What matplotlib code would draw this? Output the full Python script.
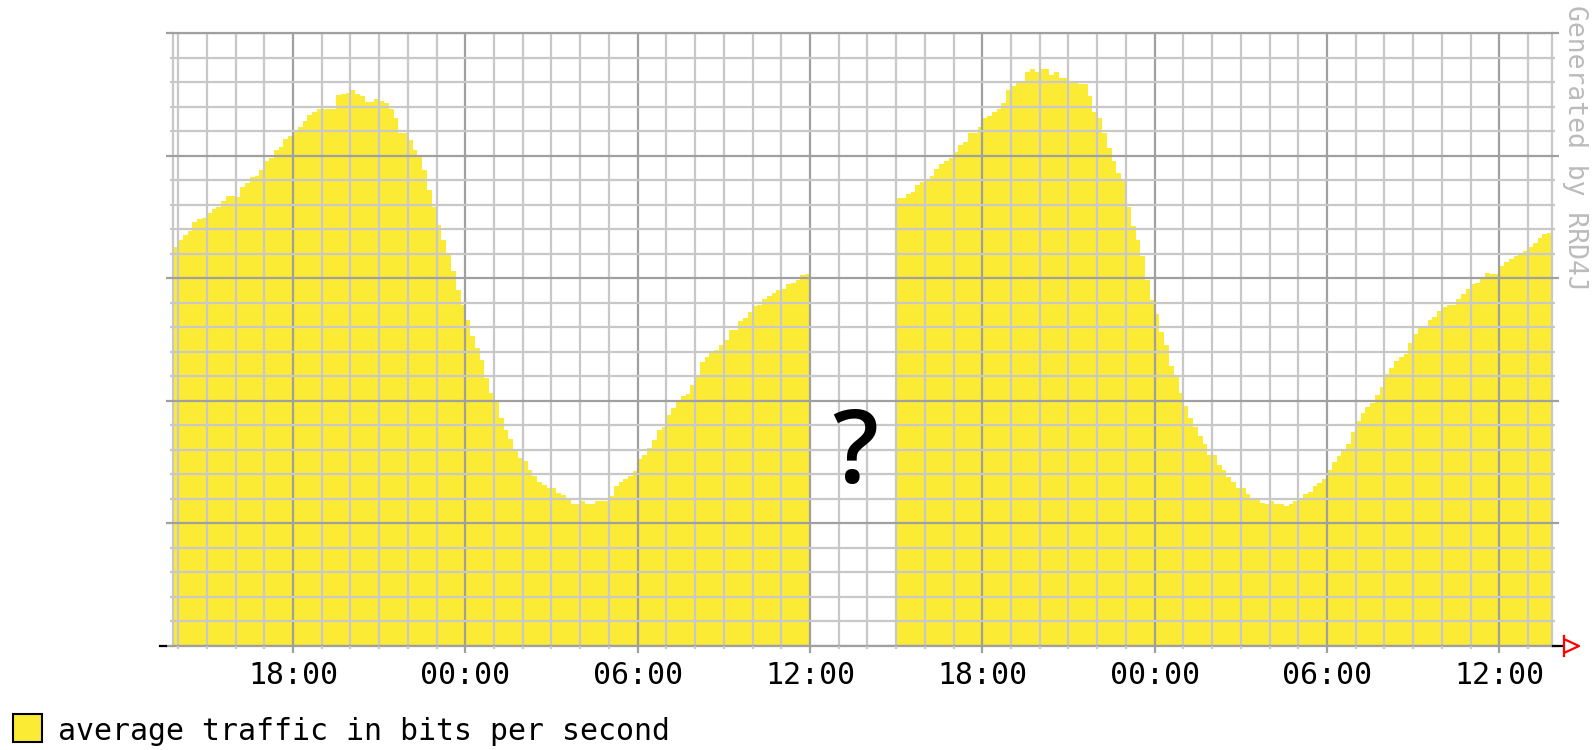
import numpy as np
import matplotlib.pyplot as plt
from matplotlib.lines import Line2D
from matplotlib.patches import Rectangle

# 10-minute averages, Mbit/s, starting 13:50 on day 1 (None = no data)
START_HOUR = 13 + 50 / 60
BIN_MINUTES = 10
traffic_mbps = [
    162.8, 165.6, 167.7, 169.3, 173.0, 174.2, 174.6, 176.7, 178.3, 179.1, 181.6, 183.6,
    183.6, 183.2, 187.3, 188.9, 191.4, 191.8, 194.2, 197.9, 199.1, 202.4, 203.6, 206.9,
    208.1, 209.7, 211.8, 214.2, 216.6, 217.9, 219.1, 219.1, 219.1, 219.1, 224.8, 225.2,
    225.6, 226.8, 225.2, 224.4, 222.0, 222.0, 223.2, 222.4, 221.5, 219.1, 215.4, 209.3,
    209.3, 206.4, 202.4, 199.5, 194.2, 186.0, 179.1, 171.8, 165.6, 159.5, 153.0, 145.2,
    139.1, 133.0, 126.5, 121.6, 116.7, 109.3, 103.2, 100.4, 93.0, 88.1, 84.5, 80.0,
    76.7, 75.5, 71.8, 69.4, 66.9, 65.7, 64.5, 64.5, 62.4, 61.6, 60.0, 57.9,
    57.9, 59.2, 57.9, 57.9, 59.2, 59.2, 59.2, 61.2, 65.3, 66.9, 68.1, 69.4,
    71.4, 76.3, 77.9, 80.8, 84.0, 88.1, 89.4, 94.2, 97.1, 99.6, 102.0, 102.8,
    106.5, 109.8, 115.9, 117.9, 119.5, 120.8, 122.8, 124.8, 128.9, 128.9, 132.6, 133.8,
    136.3, 138.7, 139.1, 141.6, 142.8, 144.0, 145.2, 145.7, 147.7, 148.1, 149.3, 151.4,
    151.8, None, None, None, None, None, None, None, None, None, None, None,
    None, None, None, None, None, None, None, 182.8, 182.8, 184.4, 185.2, 188.1,
    189.3, 190.1, 191.8, 194.6, 196.7, 197.9, 199.1, 201.6, 204.4, 205.6, 209.3, 209.3,
    211.8, 215.4, 216.2, 217.9, 219.1, 221.5, 226.8, 228.5, 230.1, 230.1, 234.2, 235.4,
    234.2, 235.4, 235.4, 233.0, 234.2, 231.7, 231.7, 230.1, 230.1, 229.3, 229.3, 224.4,
    217.9, 215.4, 209.3, 203.2, 197.9, 193.0, 190.1, 179.1, 171.4, 165.6, 159.1, 149.3,
    141.2, 135.5, 128.1, 122.8, 114.2, 109.8, 103.2, 97.9, 93.0, 89.4, 85.7, 82.4,
    77.9, 77.9, 73.8, 71.8, 69.0, 66.9, 64.5, 64.5, 62.0, 59.6, 59.6, 58.3,
    57.9, 59.2, 57.9, 57.9, 57.1, 57.9, 59.2, 60.4, 62.0, 62.8, 65.3, 66.5,
    68.1, 71.8, 75.1, 77.5, 80.4, 82.4, 87.3, 91.8, 95.1, 97.5, 99.1, 102.4,
    105.7, 111.0, 113.4, 116.3, 117.9, 119.1, 123.6, 127.3, 129.7, 129.7, 133.0, 134.2,
    136.7, 138.3, 139.1, 139.1, 141.6, 143.6, 145.7, 147.7, 148.1, 150.1, 152.2, 151.8,
    151.8, 155.0, 156.7, 157.9, 159.1, 159.9, 161.2, 162.8, 164.4, 166.5, 168.1, 168.5,
]
major_hours = [18, 24, 30, 36, 42, 48, 54, 60]
tick_labels = ["18:00", "00:00", "06:00", "12:00", "18:00", "00:00", "06:00", "12:00"]
legend_label = "average traffic in bits per second"

W, H = 1592, 750
YELLOW = "#FCEB34"
MAJOR = "#A0A0A0"
MINOR = "#C8C8C8"
MONO = "DejaVu Sans Mono"


def fig_xy(x, y):
    # pixel position -> figure fraction
    return x / W, 1 - y / H


fig = plt.figure(figsize=(W / 100, H / 100), dpi=100)
ax = fig.add_axes([173.3 / W, 1 - 646 / H, (1552 - 173.3) / W, (646 - 33.3) / H])

values = np.array(traffic_mbps, dtype=float)
edges = START_HOUR + np.arange(len(values) + 1) * BIN_MINUTES / 60
ax.stairs(values, edges, fill=True, color=YELLOW, lw=0, zorder=1)

ax.set_xlim(edges[0], edges[-1])
ax.set_ylim(0, 250)
ax.set_xticks(major_hours, tick_labels)
ax.set_xticks(np.arange(14, 62), minor=True)
ax.set_yticks(np.arange(0, 251, 50))
ax.set_yticks(np.arange(0, 251, 10), minor=True)

ax.set_axisbelow(False)
ax.grid(which="major", color=MAJOR, lw=1.6)
ax.grid(which="minor", color=MINOR, lw=1.6)
ax.tick_params(which="major", length=5, width=1.6, color=MAJOR,
               left=True, right=True, bottom=True, top=False, labelleft=False)
ax.tick_params(which="minor", length=2.5, width=1.6, color=MINOR,
               left=True, right=True, bottom=True, top=False)
ax.tick_params(axis="x", labelsize=21.5, pad=6, labelcolor="black")
for lab in ax.get_xticklabels():
    lab.set_fontfamily(MONO)

for side, col in [("left", MINOR), ("right", MINOR), ("top", MAJOR), ("bottom", MAJOR)]:
    ax.spines[side].set_color(col)
    ax.spines[side].set_linewidth(1.6)

# missing-data marker
fig.text(*fig_xy(855, 483), "?", ha="center", va="baseline", fontsize=73,
         family="Open Sans", fontweight="semibold", color="black", zorder=5)

# axis ends: black stub on the left, red arrow on the right
fig.add_artist(Line2D(*zip(fig_xy(160, 646), fig_xy(166, 646)), color="black", lw=1.6))
fig.add_artist(Line2D(*zip(fig_xy(1553, 646), fig_xy(1563, 646)), color="black", lw=1.6))
fig.add_artist(Line2D(*zip(fig_xy(1563.5, 636), fig_xy(1563.5, 656)), color="red", lw=1.6))
tri = [fig_xy(1565, 639.5), fig_xy(1579, 646), fig_xy(1565, 652.5)]
fig.add_artist(Line2D([p[0] for p in tri], [p[1] for p in tri], color="red", lw=1.6))

# legend
fig.add_artist(Rectangle(fig_xy(13, 742), 29 / W, 28 / H, transform=fig.transFigure,
                         facecolor=YELLOW, edgecolor="black", lw=1.5))
fig.text(*fig_xy(58, 740), legend_label, ha="left", va="baseline",
         fontsize=21.5, family=MONO, color="black")

fig.text(*fig_xy(1575, 5), "Generated by RRD4J", rotation=270, ha="center", va="top",
         fontsize=19, family=MONO, color="#BBBBBB")

fig.savefig("out.png", dpi=100)
